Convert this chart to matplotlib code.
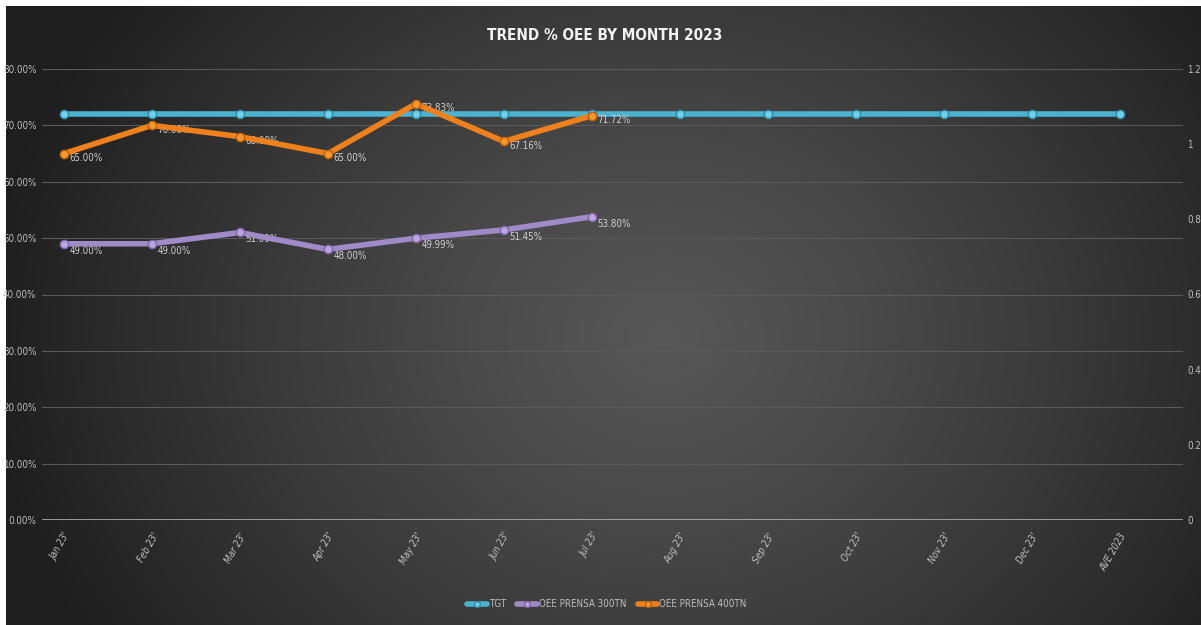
import numpy as np
import matplotlib
matplotlib.use("Agg")
import matplotlib.pyplot as plt
from matplotlib.ticker import FuncFormatter

plt.rcParams['font.family'] = ['DejaVu Sans']
plt.rcParams['font.stretch'] = 'condensed'

# --- datos ---
months = ["Jan 23'", "Feb 23'", "Mar 23'", "Apr 23'", "May 23'", "Jun 23'", "Jul 23'",
          "Aug 23'", "Sep 23'", "Oct 23'", "Nov 23'", "Dec 23'", "AVE 2023"]
tgt = [0.72] * 13
oee_300 = [0.49, 0.49, 0.51, 0.48, 0.4999, 0.5145, 0.538]
oee_400 = [0.65, 0.70, 0.68, 0.65, 0.7383, 0.6716, 0.7172]

W, H = 1201, 625
fig = plt.figure(figsize=(W / 100, H / 100), dpi=100)
fig.patch.set_facecolor('white')

# fondo con degradado radial
bg = fig.add_axes([6 / W, 0, 1 - 6 / W, 1 - 6 / H])
bg.set_axis_off()
yy, xx = np.mgrid[0:300, 0:600]
cx, cy = 330, 160
r = np.sqrt(((xx - cx) / 340.0) ** 2 + ((yy - cy) / 280.0) ** 2)
r = np.clip(r, 0, 1)
val = 0.34 - (0.34 - 0.12) * r ** 1.2
img = np.dstack([val, val, val])
bg.imshow(img, aspect='auto', extent=[0, 1, 0, 1], interpolation='bilinear')
bg.set_xlim(0, 1)
bg.set_ylim(0, 1)

ax = fig.add_axes([42 / W, 105 / H, (1183 - 42) / W, (520 - 69) / H])
ax.patch.set_alpha(0)
x = np.arange(len(months))

c_tgt = '#4bb3d0'
c_300 = '#a08bc9'
c_400 = '#f0801c'

ax.plot(x, tgt, color=c_tgt, lw=4, marker='o', ms=6, mfc='#6fd0ea', mec='#2f8aa5',
        solid_capstyle='round', label='TGT', zorder=3)
ax.plot(x[:len(oee_300)], oee_300, color=c_300, lw=4, marker='o', ms=6, mfc='#b9a6e0',
        mec='#7d66a8', solid_capstyle='round', label='OEE PRENSA 300TN', zorder=4)
ax.plot(x[:len(oee_400)], oee_400, color=c_400, lw=4, marker='o', ms=6, mfc='#f7982f',
        mec='#c05f0a', solid_capstyle='round', label='OEE PRENSA 400TN', zorder=5)

for xi, v in zip(x, oee_300):
    ax.annotate(f"{v * 100:.2f}%", (xi, v), xytext=(4, -5), textcoords='offset points',
                color='#d0d0d0', fontsize=7, va='center', ha='left')
for xi, v in zip(x, oee_400):
    ax.annotate(f"{v * 100:.2f}%", (xi, v), xytext=(4, -3), textcoords='offset points',
                color='#d0d0d0', fontsize=7, va='center', ha='left')

ax.set_xlim(-0.25, 12.72)
ax.set_ylim(0, 0.8)
ax.set_yticks(np.arange(0, 0.81, 0.1))
ax.yaxis.set_major_formatter(FuncFormatter(lambda v, p: f"{v * 100:.2f}%"))
ax.grid(axis='y', color='#5a5a5a', lw=0.8)
ax.set_axisbelow(True)
for s in ax.spines.values():
    s.set_visible(False)
ax.axhline(0, color='#a6a6a6', lw=2, zorder=2)
ax.set_xticks(x)
ax.set_xticklabels(months, rotation=60, ha='right', rotation_mode='anchor',
                   fontstyle='italic')
ax.tick_params(axis='both', length=0, colors='#bfbfbf', labelsize=7)
ax.tick_params(axis='x', pad=8)
ax.tick_params(axis='y', pad=4)

ax2 = ax.twinx()
ax2.set_ylim(0, 1.2)
ax2.set_yticks(np.arange(0, 1.21, 0.2))
ax2.yaxis.set_major_formatter(FuncFormatter(lambda v, p: f"{v:g}"))
ax2.tick_params(axis='y', length=0, colors='#bfbfbf', labelsize=7, pad=3)
for s in ax2.spines.values():
    s.set_visible(False)

fig.text(605 / W, 1 - 35 / H, 'TREND % OEE BY MONTH 2023', color='#f2f2f2',
         fontsize=11, fontweight='bold', ha='center', va='center')

leg = ax.legend(loc='center', bbox_to_anchor=(607 / W, 1 - 604 / H),
                bbox_transform=fig.transFigure, ncol=3, frameon=False,
                fontsize=7, handlelength=2, columnspacing=1.2, handletextpad=0.2,
                markerscale=0.7)
for t in leg.get_texts():
    t.set_color('#bfbfbf')

fig.savefig('out.png', dpi=100, facecolor=fig.get_facecolor())
